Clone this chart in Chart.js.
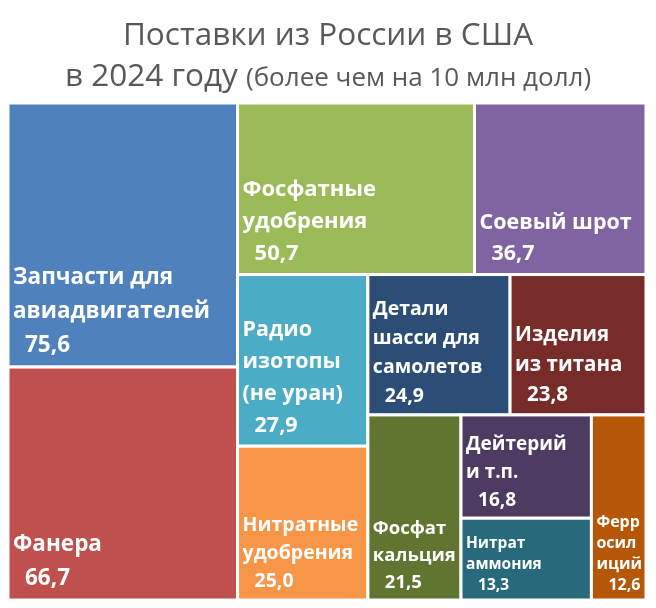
<!DOCTYPE html>
<html>
<head>
<meta charset="utf-8">
<script src="https://cdn.jsdelivr.net/npm/chart.js@4.4.1/dist/chart.umd.min.js"></script>
<style>
  html, body { margin: 0; padding: 0; background: #fff; }
  #wrap { width: 656px; height: 608px; }
</style>
</head>
<body>
<div id="wrap"><canvas id="treemap"></canvas></div>
<script>
// Data (млн долл)
const categories = [
  ['Запчасти для', 'авиадвигателей'],
  ['Фанера'],
  ['Фосфатные', 'удобрения'],
  ['Соевый шрот'],
  ['Радио', 'изотопы', '(не уран)'],
  ['Нитратные', 'удобрения'],
  ['Детали', 'шасси для', 'самолетов'],
  ['Изделия', 'из титана'],
  ['Фосфат', 'кальция'],
  ['Дейтерий', 'и т.п.'],
  ['Нитрат', 'аммония'],
  ['Ферр', 'осил', 'иций']
];
const values = [75.6, 66.7, 50.7, 36.7, 27.9, 25.0, 24.9, 23.8, 21.5, 16.8, 13.3, 12.6];
const titleLine1 = 'Поставки из России в США';
const titleLine2a = 'в 2024 году ';
const titleLine2b = '(более чем на 10 млн долл)';

// Styles
const colors = ['#4F81BD', '#C0504D', '#9BBB59', '#8064A2', '#4BACC6', '#F79646',
                '#2C4D75', '#772C2A', '#5F7530', '#4D3B62', '#276A7C', '#B65708'];
const fontSizes = [22.5, 22.5, 22, 21.5, 21.5, 19.5, 19.5, 20.5, 18.5, 19, 15.5, 16];
const lineHeights = [34, 34, 32, 31, 32, 28, 29, 30, 27, 28, 21, 21];
const FONT = '"Open Sans", "DejaVu Sans", sans-serif';

function worst(row, side) {
  const s = row.reduce((a, b) => a + b, 0);
  const max = Math.max(...row), min = Math.min(...row);
  return Math.max(side * side * max / (s * s), s * s / (side * side * min));
}

// squarified layout in abstract units (columns preferred when nearly square)
function squarify(vals, x, y, w, h) {
  const total = vals.reduce((a, b) => a + b, 0);
  const k = w * h / total;
  const areas = vals.map(v => v * k);
  const rects = [];
  let i = 0;
  while (i < areas.length) {
    const vertical = w >= h * 0.98;
    const side = vertical ? h : w;
    let row = [areas[i]];
    let best = worst(row, side);
    let j = i + 1;
    while (j < areas.length) {
      const next = row.concat(areas[j]);
      const r = worst(next, side);
      if (r > best) break;
      row = next; best = r; j++;
    }
    const thick = row.reduce((a, b) => a + b, 0) / side;
    let off = 0;
    row.forEach(a => {
      const len = a / thick;
      if (vertical) rects.push({ x: x, y: y + off, w: thick, h: len });
      else rects.push({ x: x + off, y: y, w: len, h: thick });
      off += len;
    });
    if (vertical) { x += thick; w -= thick; } else { y += thick; h -= thick; }
    i = j;
  }
  return rects;
}

const treemapPlugin = {
  id: 'treemap',
  afterDatasetsDraw(chart) {
    const { ctx, chartArea: a, scales: { x: sx, y: sy } } = chart;
    const aspect = (a.right - a.left) / (a.bottom - a.top);
    const rects = squarify(values, 0, 0, 100 * aspect, 100);
    ctx.save();
    rects.forEach((r, i) => {
      const x0 = sx.getPixelForValue(r.x / aspect);
      const x1 = sx.getPixelForValue((r.x + r.w) / aspect);
      const y0 = sy.getPixelForValue(r.y);
      const y1 = sy.getPixelForValue(r.y + r.h);
      ctx.fillStyle = colors[i];
      ctx.fillRect(x0, y0, x1 - x0, y1 - y0);
      ctx.strokeStyle = '#fff';
      ctx.lineWidth = 3;
      ctx.strokeRect(x0, y0, x1 - x0, y1 - y0);

      // label, anchored to the bottom of the cell
      const fs = fontSizes[i];
      const lh = lineHeights[i];
      const lines = categories[i].concat([values[i].toFixed(1).replace('.', ',')]);
      ctx.font = 'bold ' + fs + 'px ' + FONT;
      ctx.fillStyle = '#fff';
      ctx.textBaseline = 'middle';
      ctx.textAlign = 'left';
      let yy = y1 - fs + 1 - (lines.length - 1) * lh;
      lines.forEach((t, n) => {
        const indent = n === lines.length - 1 ? 17 : 5;
        ctx.fillText(t, x0 + indent, yy);
        yy += lh;
      });
    });

    // title
    const cx = chart.width / 2;
    ctx.fillStyle = '#595959';
    ctx.textBaseline = 'alphabetic';
    ctx.textAlign = 'center';
    ctx.font = '31.5px ' + FONT;
    ctx.fillText(titleLine1, cx, 45);
    const f1 = '31.5px ' + FONT, f2 = '26px ' + FONT;
    ctx.font = f1;
    const w1 = ctx.measureText(titleLine2a).width;
    ctx.font = f2;
    const w2 = ctx.measureText(titleLine2b).width;
    const start = cx - (w1 + w2) / 2;
    ctx.textAlign = 'left';
    ctx.font = f1;
    ctx.fillText(titleLine2a, start, 86);
    ctx.font = f2;
    ctx.fillText(titleLine2b, start + w1, 86);
    ctx.restore();
  }
};

new Chart(document.getElementById('treemap'), {
  type: 'scatter',
  data: { datasets: [{ data: [] }] },
  options: {
    responsive: true,
    maintainAspectRatio: false,
    animation: false,
    layout: { padding: { left: 8, right: 10, top: 103, bottom: 8 } },
    plugins: { legend: { display: false }, tooltip: { enabled: false } },
    scales: {
      x: { type: 'linear', min: 0, max: 100, display: false },
      y: { type: 'linear', min: 0, max: 100, reverse: true, display: false }
    }
  },
  plugins: [treemapPlugin]
});
</script>
</body>
</html>
